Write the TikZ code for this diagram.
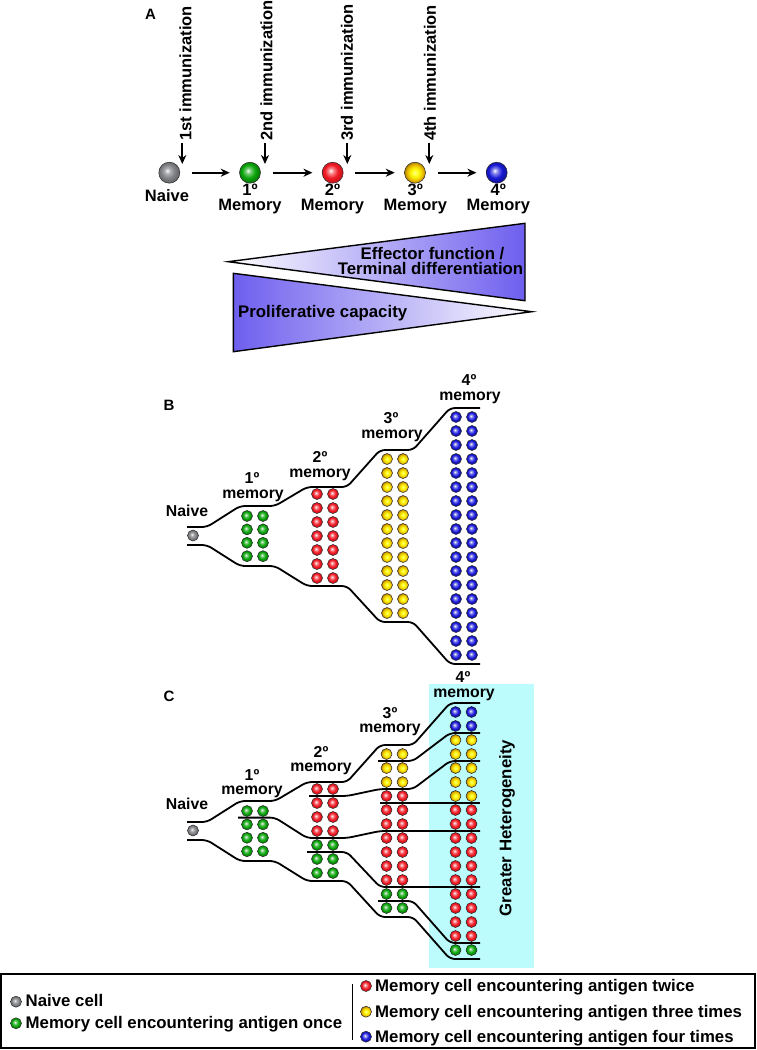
\documentclass[tikz,border=0pt]{standalone}
\usepackage{fontspec}
\setmainfont{Liberation Sans}
\usetikzlibrary{arrows.meta}
\definecolor{tripurple}{RGB}{110,95,238}
\definecolor{cyanbg}{RGB}{188,252,252}
\definecolor{dotred}{RGB}{240,25,35}
\definecolor{dotgreen}{RGB}{10,165,10}
\definecolor{dotblue}{RGB}{25,25,215}
\definecolor{dotgray}{RGB}{128,130,134}
\definecolor{dotgold}{RGB}{225,172,0}
\pgfdeclareradialshading{grayball}{\pgfpoint{-5bp}{5bp}}{color(0bp)=(white); color(6bp)=(dotgray!60!white); color(16bp)=(dotgray); color(25bp)=(dotgray!80!black); color(50bp)=(dotgray!80!black)}
\pgfdeclareradialshading{greenball}{\pgfpoint{-5bp}{5bp}}{color(0bp)=(white); color(6bp)=(dotgreen!55!white); color(16bp)=(dotgreen); color(25bp)=(dotgreen!75!black); color(50bp)=(dotgreen!75!black)}
\pgfdeclareradialshading{redball}{\pgfpoint{-5bp}{5bp}}{color(0bp)=(white); color(6bp)=(dotred!50!white); color(16bp)=(dotred); color(25bp)=(dotred!85!black); color(50bp)=(dotred!85!black)}
\pgfdeclareradialshading{blueball}{\pgfpoint{-5bp}{5bp}}{color(0bp)=(white); color(6bp)=(dotblue!50!white); color(16bp)=(dotblue); color(25bp)=(dotblue!75!black); color(50bp)=(dotblue!75!black)}
\pgfdeclareradialshading{yellowball}{\pgfpoint{0bp}{0bp}}{color(0bp)=(white!60!yellow); color(6bp)=(yellow!85!white); color(13bp)=(yellow!70!dotgold); color(20bp)=(dotgold); color(25bp)=(dotgold!75!black); color(50bp)=(dotgold!75!black)}
\newcommand\dcol[5]{%
  \foreach \s [count=\i from 0] in {#5} {%
    \node[dot,\s] (#1l\i) at (#2,{#3+\i*#4}) {};
    \node[dot,\s] (#1r\i) at ({#2+16},{#3+\i*#4}) {};
  }}
\begin{document}
\begin{tikzpicture}[x=1pt,y=-1pt,
  every node/.style={font=\bfseries\fontsize{16.8}{17}\selectfont},
  dot/.style={circle,draw=black!85,line width=0.5pt,inner sep=0pt,minimum size=11pt},
  bigdot/.style={dot,minimum size=21pt},
  cg/.style={shading=grayball},
  cgr/.style={shading=greenball},
  cr/.style={shading=redball},
  cy/.style={shading=yellowball},
  cb/.style={shading=blueball},
  lab/.style={anchor=base,inner sep=0pt,font=\bfseries\fontsize{15.8}{16}\selectfont},
  alab/.style={anchor=base,inner sep=0pt,font=\bfseries\fontsize{16.5}{16.5}\selectfont},
  panel/.style={anchor=base west,inner sep=0pt,font=\bfseries\fontsize{15}{15}\selectfont},
  tube/.style={line width=1.8pt,rounded corners=5pt},
  arr/.style={line width=1.7pt,-{Stealth[length=9pt,width=8pt]}},
  imm/.style={rotate=90,anchor=west,inner sep=0pt,font=\bfseries\fontsize{16.5}{16.5}\selectfont},
  tri/.style={draw=black,line width=1.4pt,line join=miter},
  leg/.style={anchor=base west,inner sep=0pt}
]
\useasboundingbox (0,0) rectangle (756,1050);

% ---------------- Panel A ----------------
\node[panel] (pA) at (145,19.5) {A};
\node[bigdot,cg]  (a0) at (169.3,172.7) {};
\node[bigdot,cgr] (a1) at (250,172.7) {};
\node[bigdot,cr]  (a2) at (332.7,172.7) {};
\node[bigdot,cy]  (a3) at (415,172.7) {};
\node[bigdot,cb]  (a4) at (496.7,172.7) {};
\foreach \p/\q in {a0/a1,a1/a2,a2/a3,a3/a4}
  \draw[arr,shorten <=12pt,shorten >=9.5pt] (\p) -- (\q);

\node[imm] (t1) at (185.5,141) {1st immunization};
\node[imm] (t2) at (266.5,141) {2nd immunization};
\node[imm] (t3) at (347,141) {3rd immunization};
\node[imm] (t4) at (430,141) {4th immunization};
\foreach \k/\x in {1/182.3,2/265,3/347.3,4/429.3}{
  \coordinate (v\k s) at (\x,143);
  \coordinate (v\k e) at (\x,164);
  \draw[arr] (v\k s) -- (v\k e);
}

\node[alab] (la0) at (167,201.7) {Naive};
\node[alab] (la1a) at (250,195.5) {1º};
\node[alab] (la1b) at (250,210.8) {Memory};
\node[alab] (la2a) at (332.5,195.5) {2º};
\node[alab] (la2b) at (332.5,210.8) {Memory};
\node[alab] (la3a) at (415.3,195.5) {3º};
\node[alab] (la3b) at (415.3,210.8) {Memory};
\node[alab] (la4a) at (498.3,195.5) {4º};
\node[alab] (la4b) at (498.3,210.8) {Memory};

\draw[tri,left color=white,right color=tripurple] (228.3,261.7) -- (525,223.3) -- (525,300.7) -- cycle;
\draw[tri,left color=tripurple,right color=white] (233.3,273.3) -- (531.7,311.7) -- (233.3,351.7) -- cycle;
\node[anchor=base,inner sep=0pt] (eff1) at (432.5,259) {Effector function /};
\node[anchor=base,inner sep=0pt] (eff2) at (430.5,274) {Terminal differentiation};
\node[anchor=base west,inner sep=0pt] (prol) at (238,317.3) {Proliferative capacity};

% ---------------- Panel B ----------------
\node[panel] (pB) at (163.3,410.7) {B};
\draw[tube] (187,527) -- (207,527) -- (240,506) -- (275,506) -- (307,487) -- (347,487) -- (380,450) -- (413,450) -- (450,408) -- (480,408);
\draw[tube] (187,545) -- (207,545) -- (240,566) -- (275,566) -- (307,586) -- (347,586) -- (380,622) -- (413,622) -- (450,664) -- (480,664);
\node[dot,cg] (bn) at (193,535.5) {};
\dcol{b1}{247}{516}{13.4}{cgr,cgr,cgr,cgr}
\dcol{b2}{317}{494}{14}{cr,cr,cr,cr,cr,cr,cr}
\dcol{b3}{387}{459}{14}{cy,cy,cy,cy,cy,cy,cy,cy,cy,cy,cy,cy}
\dcol{b4}{456}{417}{14}{cb,cb,cb,cb,cb,cb,cb,cb,cb,cb,cb,cb,cb,cb,cb,cb,cb,cb}
\node[lab] (lb0) at (187,516.7) {Naive};
\node[lab] (lb1a) at (252,483.5) {1º};
\node[lab] (lb1b) at (253,498) {memory};
\node[lab] (lb2a) at (320,462.5) {2º};
\node[lab] (lb2b) at (320,477) {memory};
\node[lab] (lb3a) at (391,423.5) {3º};
\node[lab] (lb3b) at (392,438) {memory};
\node[lab] (lb4a) at (469,385.5) {4º};
\node[lab] (lb4b) at (470,400) {memory};

% ---------------- Panel C ----------------
\fill[cyanbg] (429.3,684.3) rectangle (534,968.3);
\node[panel] (pC) at (163.3,701.7) {C};
\node[rotate=90] (het) at (507,828) {Greater Heterogeneity};
\begin{scope}[shift={(0,295)}]
\draw[tube] (187,527) -- (207,527) -- (240,506) -- (275,506) -- (307,487) -- (347,487) -- (380,450) -- (413,450) -- (450,408) -- (480,408);
\draw[tube] (187,545) -- (207,545) -- (240,566) -- (275,566) -- (307,586) -- (347,586) -- (380,622) -- (413,622) -- (450,664) -- (480,664);
\draw[tube] (238,522.6) -- (275,522.6) -- (307,543) -- (347,543) -- (380,536) -- (480,536);
\draw[tube] (309,501) -- (347,501) -- (380,494) -- (413,494) -- (450,466) -- (480,466);
\draw[tube] (307,557) -- (347,557) -- (380,592) -- (480,592);
\draw[tube] (378,466) -- (413,466) -- (450,438) -- (480,438);
\draw[tube] (380,508) -- (480,508);
\draw[tube] (378,606) -- (413,606) -- (450,648) -- (480,648);
\node[dot,cg] (cn) at (193,535.5) {};
\dcol{c1}{247}{516}{13.4}{cgr,cgr,cgr,cgr}
\dcol{c2}{317}{494}{14}{cr,cr,cr,cr,cgr,cgr,cgr}
\dcol{c3}{386.5}{459}{14}{cy,cy,cy,cr,cr,cr,cr,cr,cr,cr,cgr,cgr}
\dcol{c4}{455.5}{417}{14}{cb,cb,cy,cy,cy,cy,cy,cr,cr,cr,cr,cr,cr,cr,cr,cr,cr,cgr}
\node[lab] (lc0) at (187,514.5) {Naive};
\node[lab] (lc1a) at (252,485) {1º};
\node[lab] (lc1b) at (252,499.5) {memory};
\node[lab] (lc2a) at (321,462) {2º};
\node[lab] (lc2b) at (321,476.5) {memory};
\node[lab] (lc3a) at (390,423) {3º};
\node[lab] (lc3b) at (390,437.5) {memory};
\node[lab] (lc4a) at (463,387.5) {4º};
\node[lab] (lc4b) at (464,402) {memory};
\end{scope}

% ---------------- Legend ----------------
\draw[line width=1.5pt] (1,974) rectangle (755,1048);
\coordinate (dv1) at (352.3,984);
\coordinate (dv2) at (352.3,1040);
\draw[line width=1.5pt] (dv1) -- (dv2);
\node[dot,cg]  (lg0) at (16,1001.7) {};
\node[leg] (lt0) at (25.5,1006.7) {Naive cell};
\node[dot,cgr] (lg1) at (16,1023.3) {};
\node[leg] (lt1) at (25.5,1028.3) {Memory cell encountering antigen once};
\node[dot,cr]  (lg2) at (366,986) {};
\node[leg] (lt2) at (375,991.7) {Memory cell encountering antigen twice};
\node[dot,cy]  (lg3) at (366,1011.7) {};
\node[leg] (lt3) at (375,1017.3) {Memory cell encountering antigen three times};
\node[dot,cb]  (lg4) at (366,1036.7) {};
\node[leg] (lt4) at (375,1042.7) {Memory cell encountering antigen four times};
\end{tikzpicture}
\end{document}
